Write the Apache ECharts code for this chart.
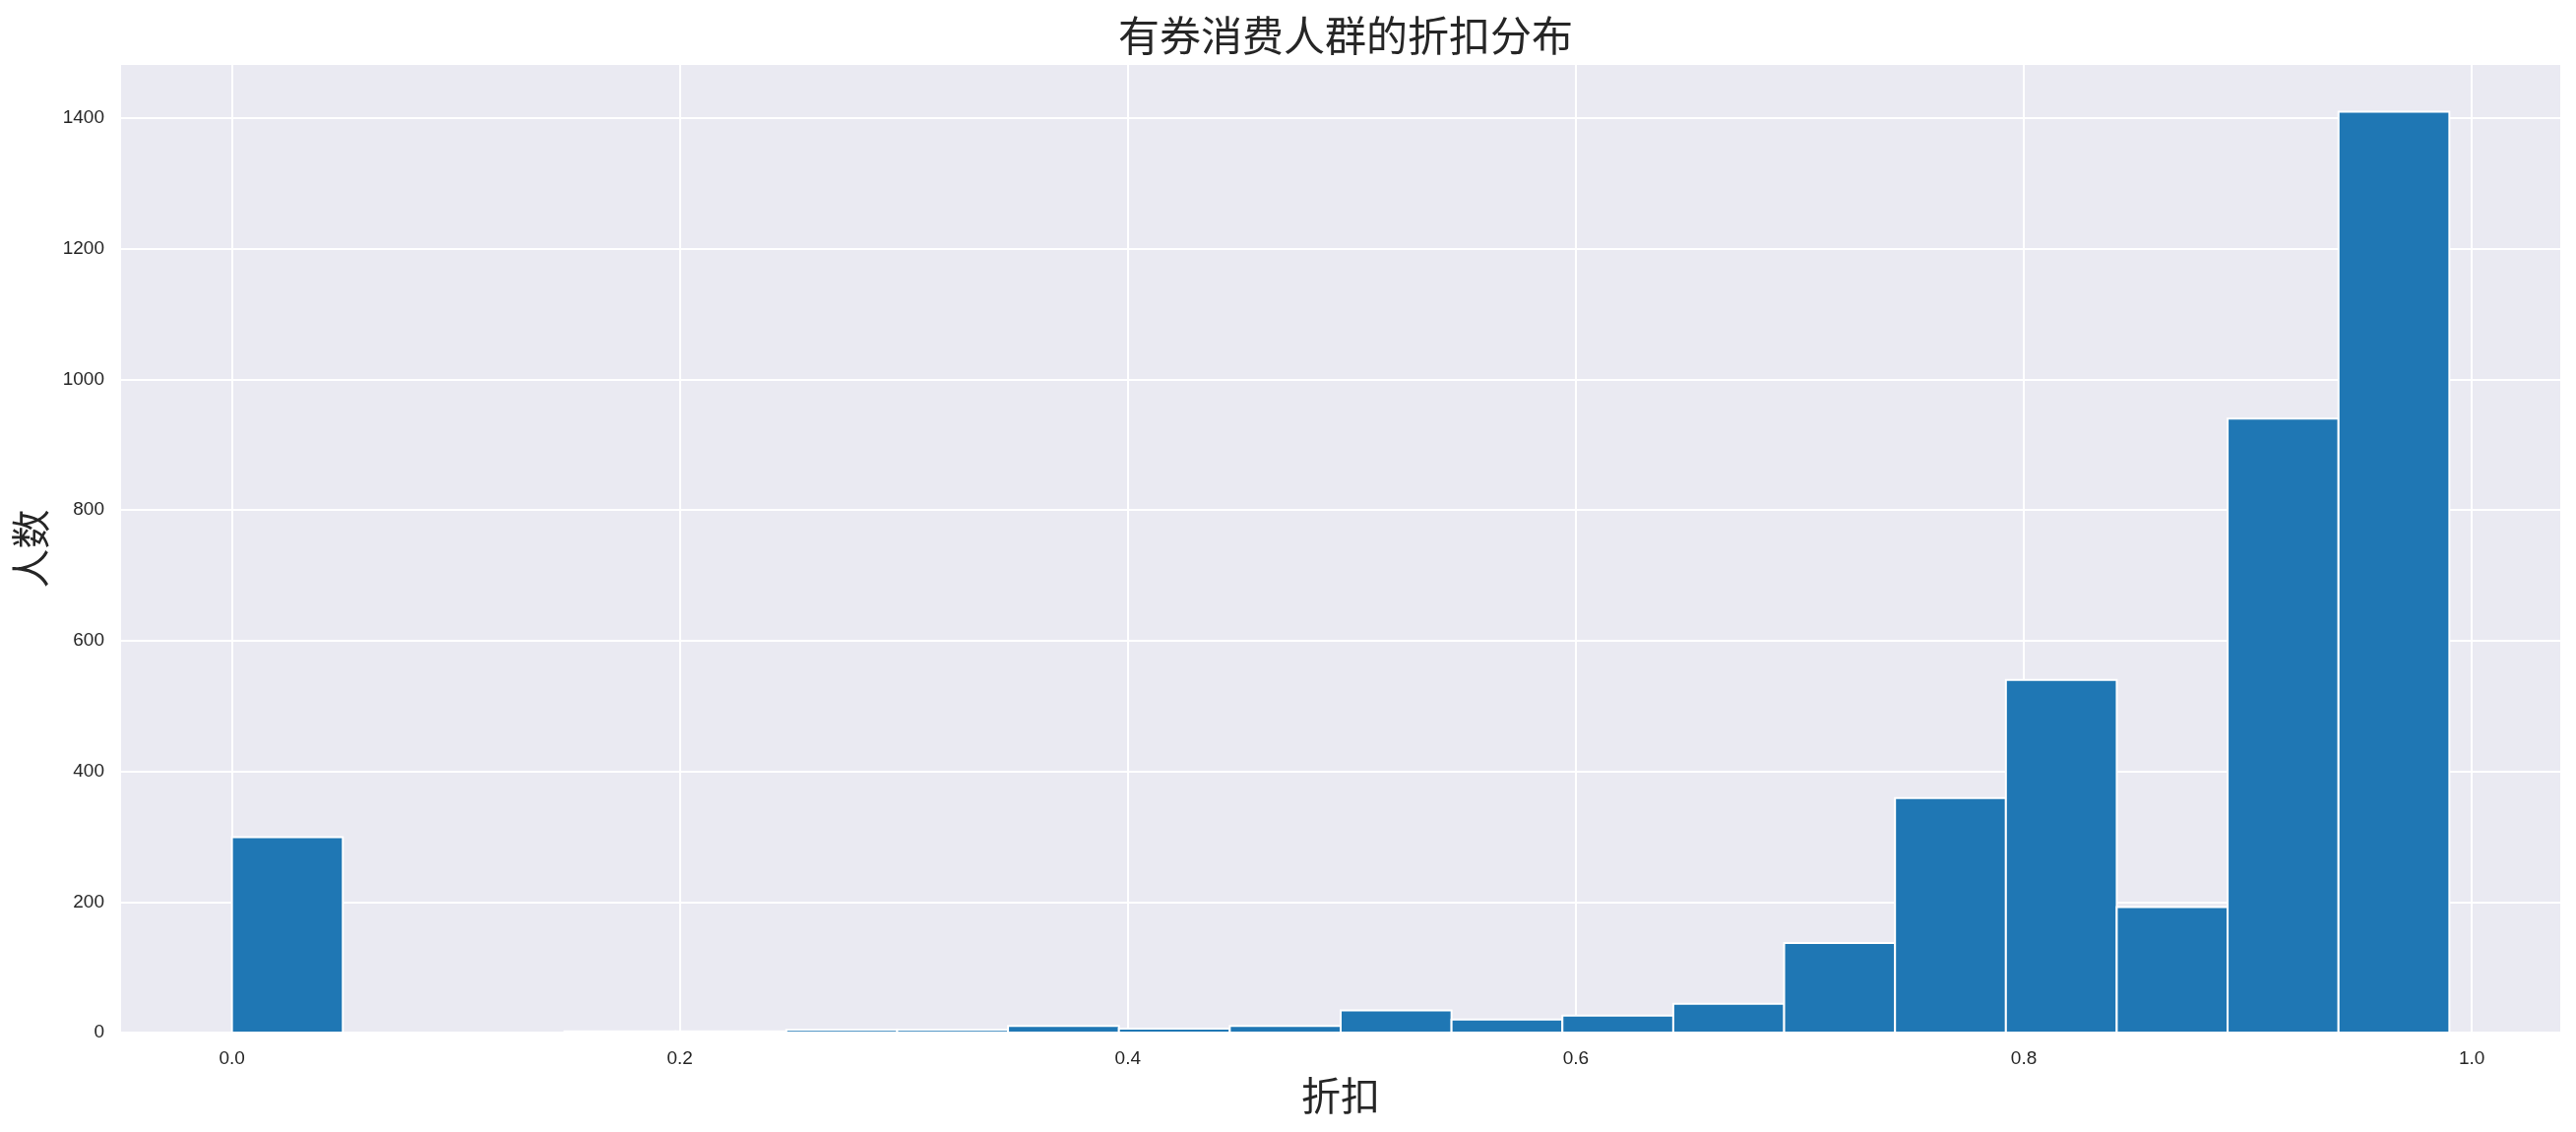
<!DOCTYPE html>
<html>
<head>
<meta charset="utf-8">
<style>html,body{margin:0;padding:0;background:#fff}#c{width:2617px;height:1150px}</style>
<script src="https://cdn.jsdelivr.net/npm/echarts@6/dist/echarts.min.js"></script>
</head>
<body>
<div id="c"></div>
<script>
// Histogram bin edges (21 edges -> 20 bins)
const binEdges = [0, 0.0495, 0.099, 0.1485, 0.198, 0.2475, 0.297, 0.3465, 0.396, 0.4455, 0.495,
                  0.5445, 0.594, 0.6435, 0.693, 0.7425, 0.792, 0.8415, 0.891, 0.9405, 0.99];
// Counts per bin
const counts = [299, 0, 0, 2, 2, 4, 4, 10, 6, 10, 34, 20, 26, 44, 137, 359, 540, 192, 940, 1410];
const xTicks = [0.0, 0.2, 0.4, 0.6, 0.8, 1.0];
const yTicks = [0, 200, 400, 600, 800, 1000, 1200, 1400];
const titleText = '有券消费人群的折扣分布';
const xName = '折扣';
const yName = '人数';

const data = counts.map((c, i) => [binEdges[i], binEdges[i + 1], c]);

const chart = echarts.init(document.getElementById('c'), null, {renderer: 'canvas'});
const txt = '#262626';
chart.setOption({
  animation: false,
  backgroundColor: '#ffffff',
  title: {
    text: titleText, left: 1362, textAlign: 'center', top: 10,
    textStyle: {fontFamily: 'Noto Sans CJK SC', fontSize: 42, fontWeight: 'normal', color: txt}
  },
  grid: {left: 123, right: 16, top: 66, bottom: 101, show: true, backgroundColor: '#EAEAF2', borderWidth: 0},
  xAxis: {
    type: 'value', min: -0.0495, max: 1.0395,
    name: xName, nameLocation: 'middle', nameGap: 44,
    nameTextStyle: {fontFamily: 'Noto Sans CJK SC', fontSize: 40, color: txt},
    axisLine: {show: false},
    axisTick: {show: false, customValues: xTicks},
    axisLabel: {customValues: xTicks, formatter: v => v.toFixed(1), fontFamily: 'Liberation Sans', fontSize: 19, color: txt, margin: 17},
    splitLine: {show: true, lineStyle: {color: '#ffffff', width: 2}}
  },
  yAxis: {
    type: 'value', min: 0, max: 1481.5,
    name: yName, nameLocation: 'middle', nameGap: 72, nameRotate: 90,
    nameTextStyle: {fontFamily: 'Noto Sans CJK SC', fontSize: 40, color: txt},
    axisLine: {show: false},
    axisTick: {show: false, customValues: yTicks},
    axisLabel: {customValues: yTicks, formatter: v => String(Math.round(v)), fontFamily: 'Liberation Sans', fontSize: 19, color: txt, margin: 17},
    splitLine: {show: true, lineStyle: {color: '#ffffff', width: 2}}
  },
  series: [{
    type: 'custom',
    data: data,
    encode: {x: [0, 1], y: 2},
    renderItem: function (params, api) {
      const x0 = api.value(0), x1 = api.value(1), y = api.value(2);
      const p0 = api.coord([x0, y]);
      const p1 = api.coord([x1, 0]);
      return {
        type: 'rect',
        shape: {x: p0[0], y: p0[1], width: p1[0] - p0[0], height: p1[1] - p0[1]},
        style: {fill: '#1f77b4', stroke: '#ffffff', lineWidth: 2}
      };
    }
  }]
});
</script>
</body>
</html>
